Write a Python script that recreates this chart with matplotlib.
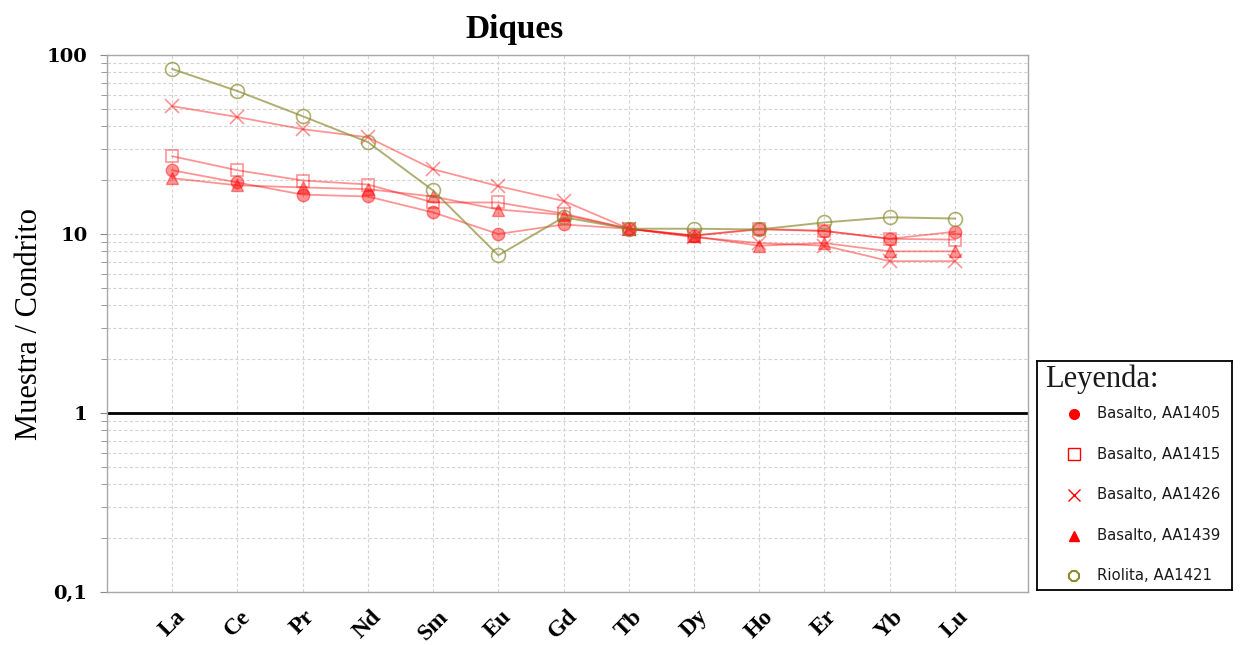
import matplotlib
matplotlib.use("Agg")
import matplotlib.pyplot as plt
from matplotlib.ticker import FixedLocator, LogLocator, NullFormatter

elements = ["La", "Ce", "Pr", "Nd", "Sm", "Eu", "Gd", "Tb", "Dy", "Ho", "Er", "Yb", "Lu"]

aa1405 = [22.7, 19.4, 16.6, 16.2, 13.2, 10.0, 11.3, 10.7, 9.8, 10.6, 10.4, 9.4, 10.3]
aa1415 = [27.2, 22.7, 19.9, 18.9, 15.0, 15.0, 13.0, 10.7, 9.8, 10.7, 10.4, 9.4, 9.3]
aa1426 = [51.8, 45.0, 38.5, 34.7, 23.0, 18.5, 15.3, 10.7, 9.6, 8.9, 8.6, 7.05, 7.05]
aa1439 = [20.5, 18.7, 18.2, 17.8, 16.2, 13.7, 12.8, 10.7, 9.7, 8.6, 8.9, 8.0, 8.0]
aa1421 = [83.5, 62.9, 45.5, 32.6, 17.5, 7.6, 12.4, 10.7, 10.7, 10.6, 11.6, 12.4, 12.2]

series_labels = ["Basalto, AA1405", "Basalto, AA1415", "Basalto, AA1426",
                 "Basalto, AA1439", "Riolita, AA1421"]
ytick_vals = [0.1, 1, 10, 100]
ytick_labels = ["0,1", "1", "10", "100"]

W, H = 1241, 645
fig = plt.figure(figsize=(W / 100, H / 100), dpi=100)
ax = fig.add_axes([107 / W, 1 - 592 / H, (1028 - 107) / W, (592 - 55) / H])

x = list(range(len(elements)))
red = "#ff0000"
olive = "#8a8a30"

styles = [
    (aa1405, dict(marker="o", mfc=red, mec=red, ms=9)),
    (aa1415, dict(marker="s", mfc="none", mec=red, ms=9, mew=1.2)),
    (aa1426, dict(marker="x", mfc="none", mec=red, ms=10, mew=1.2)),
    (aa1439, dict(marker="^", mfc=red, mec=red, ms=9)),
]
for vals, st in styles:
    ax.plot(x, vals, color=red, lw=1.3, alpha=0.42, zorder=3, **st)
ax.plot(x, aa1421, color=olive, lw=1.4, alpha=0.68, marker="o", mfc="none",
        mec=olive, ms=10, mew=1.2, zorder=4)

ax.axhline(1, color="black", lw=2.0, zorder=2)

ax.set_yscale("log")
ax.set_ylim(0.1, 100)
ax.set_xlim(-1, 13.12)
ax.yaxis.set_major_locator(FixedLocator(ytick_vals))
ax.set_yticklabels(ytick_labels)
ax.yaxis.set_minor_locator(LogLocator(base=10, subs=range(2, 10)))
ax.yaxis.set_minor_formatter(NullFormatter())
ax.set_xticks(x)
ax.set_xticklabels(elements)

ax.grid(True, which="both", axis="y", color="#d4d4d4", lw=0.8, ls=(0, (3, 2)), zorder=0)
ax.grid(True, which="major", axis="x", color="#d4d4d4", lw=0.8, ls=(0, (3, 2)), zorder=0)

for s in ax.spines.values():
    s.set_color("#a8a8a8")
    s.set_linewidth(1.0)

ax.tick_params(axis="y", which="major", length=5, color="#888888",
               labelsize=14, pad=9)
ax.tick_params(axis="y", which="minor", length=4, color="#888888")
ax.tick_params(axis="x", which="major", length=0, pad=10)
for lab in ax.get_yticklabels():
    lab.set_family("DejaVu Serif")
    lab.set_fontweight("bold")
for lab in ax.get_xticklabels():
    lab.set_family("Liberation Serif")
    lab.set_fontweight("bold")
    lab.set_fontsize(17)
    lab.set_rotation(45)
    lab.set_ha("center")
    lab.set_va("top")

ax.set_title("Diques", fontsize=24, fontweight="bold", family="Liberation Serif",
             x=(515 - 107) / (1028 - 107), pad=12)
ax.set_ylabel("Muestra / Condrito", fontsize=22, family="Liberation Serif", va="center")
ax.yaxis.set_label_coords((30 - 107) / (1028 - 107), 0.5)

# Legend panel
lx0, ly0, lx1, ly1 = 1037, 361, 1232, 590
lax = fig.add_axes([lx0 / W, 1 - ly1 / H, (lx1 - lx0) / W, (ly1 - ly0) / H])
lax.set_xlim(0, lx1 - lx0)
lax.set_ylim(ly1 - ly0, 0)
lax.set_xticks([])
lax.set_yticks([])
for s in lax.spines.values():
    s.set_color("black")
    s.set_linewidth(1.3)

lax.text(8, 18, "Leyenda:", fontsize=22, family="Liberation Serif",
         ha="left", va="center", color="#1a1a1a")
handle_styles = [
    dict(marker="o", color=red, ms=7),
    dict(marker="s", mfc="none", mec=red, ms=8, mew=1.0),
    dict(marker="x", color=red, ms=8, mew=1.0),
    dict(marker="^", color=red, ms=7),
    dict(marker="8", mfc="none", mec=olive, ms=8, mew=1.5),
]
for i, (lab, hs) in enumerate(zip(series_labels, handle_styles)):
    yy = 53 + 40.5 * i
    lax.plot([37], [yy], ls="none", **hs)
    lax.text(60, yy, lab, fontsize=10.7, family="DejaVu Sans", ha="left",
             va="center", color="#1a1a1a")

fig.savefig("out.png", dpi=100)
